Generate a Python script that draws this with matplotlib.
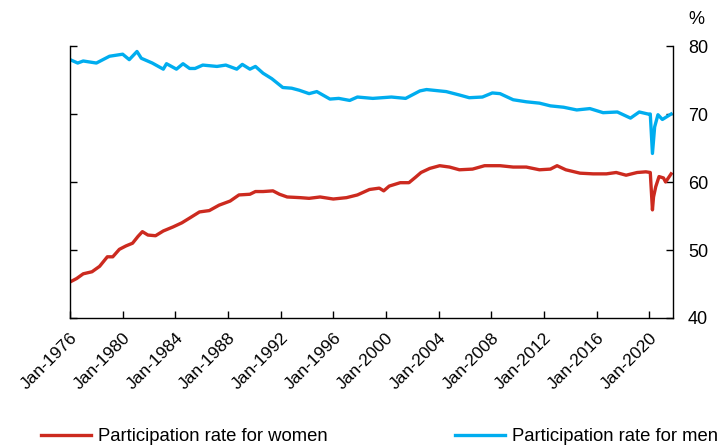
import matplotlib.pyplot as plt
import matplotlib.dates as mdates
import pandas as pd

plt.rcParams['font.family'] = ['Liberation Sans', 'DejaVu Sans']

# values (per cent)
women_dates = ['1976-01', '1976-07', '1977-01', '1977-09', '1978-04', '1978-11', '1979-04',
               '1979-10', '1980-04', '1980-10', '1981-03', '1981-07', '1981-12', '1982-07',
               '1983-02', '1983-11', '1984-07', '1985-02', '1985-11', '1986-08', '1987-05',
               '1988-03', '1988-11', '1989-09', '1990-02', '1990-09', '1991-06', '1991-12',
               '1992-07', '1993-07', '1994-03', '1995-01', '1996-01', '1997-01', '1997-11',
               '1998-10', '1999-07', '1999-11', '2000-04', '2001-02', '2001-10', '2002-04',
               '2002-09', '2003-05', '2004-02', '2004-11', '2005-08', '2006-08', '2007-07',
               '2008-09', '2009-09', '2010-09', '2011-09', '2012-07', '2013-01', '2013-09',
               '2014-10', '2015-10', '2016-10', '2017-07', '2018-04', '2019-02', '2019-10',
               '2020-02', '2020-04', '2020-05', '2020-07', '2020-10', '2021-02', '2021-04',
               '2021-09']
women_rate = [45.3, 45.8, 46.5, 46.8, 47.6, 49.0, 49.0,
              50.1, 50.6, 51.0, 52.0, 52.7, 52.2, 52.1,
              52.8, 53.4, 54.0, 54.7, 55.6, 55.8, 56.6,
              57.2, 58.1, 58.2, 58.6, 58.6, 58.7, 58.2,
              57.8, 57.7, 57.6, 57.8, 57.5, 57.7, 58.1,
              58.9, 59.1, 58.7, 59.4, 59.9, 59.9, 60.7,
              61.4, 62.0, 62.4, 62.2, 61.8, 61.9, 62.4,
              62.4, 62.2, 62.2, 61.8, 61.9, 62.4, 61.8,
              61.3, 61.2, 61.2, 61.4, 61.0, 61.4, 61.5,
              61.4, 55.9, 57.8, 59.3, 60.8, 60.6, 60.0,
              61.2]

men_dates = ['1976-01', '1976-08', '1977-01', '1978-01', '1979-01', '1980-01', '1980-07',
             '1981-02', '1981-06', '1982-04', '1983-02', '1983-05', '1984-02', '1984-08',
             '1985-02', '1985-07', '1986-02', '1987-03', '1987-11', '1988-09', '1989-02',
             '1989-09', '1990-02', '1990-09', '1991-05', '1992-03', '1992-11', '1993-06',
             '1994-03', '1994-10', '1995-10', '1996-06', '1997-04', '1997-11', '1999-01',
             '2000-06', '2001-07', '2002-08', '2003-02', '2004-08', '2005-08', '2006-05',
             '2007-05', '2008-02', '2008-09', '2009-09', '2010-09', '2011-09', '2012-07',
             '2013-07', '2014-07', '2015-07', '2016-07', '2017-08', '2018-08', '2019-04',
             '2019-12', '2020-02', '2020-04', '2020-06', '2020-09', '2021-01', '2021-09']
men_rate = [78.0, 77.5, 77.8, 77.5, 78.5, 78.8, 78.0,
            79.2, 78.2, 77.5, 76.6, 77.4, 76.6, 77.4,
            76.7, 76.7, 77.2, 77.0, 77.2, 76.6, 77.3,
            76.6, 77.0, 76.0, 75.2, 73.9, 73.8, 73.5,
            73.0, 73.3, 72.2, 72.3, 72.0, 72.5, 72.3,
            72.5, 72.3, 73.4, 73.6, 73.3, 72.8, 72.4,
            72.5, 73.1, 73.0, 72.1, 71.8, 71.6, 71.2,
            71.0, 70.6, 70.8, 70.2, 70.3, 69.4, 70.3,
            70.0, 70.0, 64.2, 68.1, 69.9, 69.2, 70.0]

tick_years = list(range(1976, 2021, 4))

fig = plt.figure(figsize=(7.19, 4.47), dpi=100)
ax = fig.add_axes([0.0974, 0.2886, 0.8382, 0.6084])

ax.plot(pd.to_datetime(women_dates), women_rate, color='#CC2A1F', lw=2.4,
        label='Participation rate for women')
ax.plot(pd.to_datetime(men_dates), men_rate, color='#00ADEF', lw=2.4,
        label='Participation rate for men')

ax.set_ylim(40, 80)
ax.set_yticks([40, 50, 60, 70, 80])
ax.set_xlim(pd.Timestamp('1976-01-01'), pd.Timestamp('2021-10-15'))
ax.set_xticks([pd.Timestamp(f'{y}-01-01') for y in tick_years])
ax.xaxis.set_major_formatter(mdates.DateFormatter('Jan-%Y'))

ax.spines['top'].set_visible(False)
for s in ['left', 'right', 'bottom']:
    ax.spines[s].set_linewidth(1.0)
ax.tick_params(axis='both', direction='in', length=5, width=1)
ax.tick_params(axis='x', labelsize=12.5, pad=9)
ax.tick_params(axis='y', left=True, right=True, labelleft=False, labelright=True,
               labelsize=13, pad=11)
for lbl in ax.get_xticklabels():
    lbl.set_rotation(45)
    lbl.set_ha('right')
    lbl.set_rotation_mode('anchor')

fig.text(0.969, 0.956, '%', fontsize=13, ha='center', va='center')

fig.legend(loc='center', bbox_to_anchor=(0.528, 0.023), ncol=2, frameon=False,
           fontsize=13.3, handlelength=2.7, handletextpad=0.4, columnspacing=6.9)

fig.savefig('out.png', dpi=100)
